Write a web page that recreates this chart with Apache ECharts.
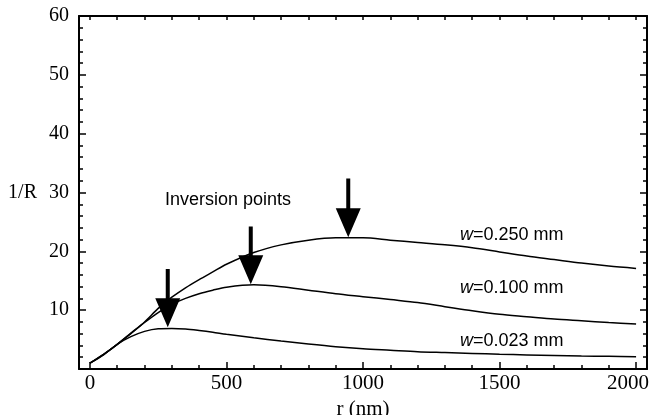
<!DOCTYPE html>
<html>
<head>
<meta charset="utf-8">
<script src="https://cdn.jsdelivr.net/npm/echarts@6/dist/echarts.min.js"></script>
<style>
html,body{margin:0;padding:0;background:#fff;}
#chart{width:650px;height:415px;}
</style>
</head>
<body>
<div id="chart"></div>
<script>
// r (nm) sample points, shared by the three curves
var rVals = [0,50,100,150,200,250,300,350,400,450,500,600,700,800,900,1000,1100,1200,1300,1400,1500,1600,1700,1800,1900,2000];
var w250 = [1.0,2.5,4.2,6.1,8.0,10.3,12.2,13.8,15.2,16.5,17.8,19.8,21.1,21.9,22.3,22.3,21.9,21.5,21.1,20.6,19.9,19.2,18.6,18.0,17.5,17.1];
var w100 = [1.0,2.5,4.2,6.0,7.9,9.6,11.0,12.0,12.8,13.4,13.9,14.3,14.0,13.4,12.8,12.3,11.8,11.3,10.6,9.9,9.3,8.9,8.5,8.2,7.9,7.65];
var w023 = [1.0,2.4,4.2,5.5,6.4,6.85,6.9,6.8,6.55,6.25,5.9,5.3,4.75,4.25,3.8,3.45,3.2,2.95,2.8,2.65,2.5,2.4,2.3,2.2,2.15,2.1];

var xMajor = [0,500,1000,1500,2000];
var xMinor = [0,100,200,300,400,500,600,700,800,900,1000,1100,1200,1300,1400,1500,1600,1700,1800,1900,2000];

// inversion point arrows: [r, tip 1/R, tail 1/R]
var arrows = [[285,7.1,17.0],[589,14.4,24.2],[946,22.4,32.4]];
// curve labels: [r, 1/R, text]
var curveNames = [[1355,22.8,'0.250'],[1355,13.8,'0.100'],[1355,4.76,'0.023']];
var noteText = [[275,28.7,'Inversion points']];

function pairs(ys) {
    var out = [];
    for (var i = 0; i < rVals.length; i++) out.push([rVals[i], ys[i]]);
    return out;
}

function curve(ys) {
    return {
        type: 'line',
        data: pairs(ys),
        smooth: 0.3,
        showSymbol: false,
        silent: true,
        lineStyle: {color: '#000', width: 1.5}
    };
}

var serif = '"Liberation Serif", "DejaVu Serif", serif';
var sans = '"Liberation Sans", Arial, sans-serif';
var tickStyle = {color: '#000', width: 1.5};

var chart = echarts.init(document.getElementById('chart'));
var option = {
    animation: false,
    backgroundColor: '#fff',
    grid: {left: 79, right: 3, top: 16, bottom: 46, containLabel: false, outerBoundsMode: 'none'},
    xAxis: [
        {
            type: 'value', min: -40, max: 2040, position: 'bottom',
            name: 'r (nm)', nameLocation: 'middle', nameGap: 27,
            nameTextStyle: {fontFamily: serif, fontSize: 21, color: '#000'},
            axisLine: {onZero: false, lineStyle: {color: '#000', width: 2}},
            axisTick: {inside: true, length: 7, customValues: xMajor, lineStyle: tickStyle},
            axisLabel: {
                customValues: xMajor, margin: 4, fontFamily: serif, fontSize: 21, color: '#000',
                formatter: function (v) { return v === 2000 ? '{e|' + v + '}' : String(v); },
                rich: {e: {fontFamily: serif, fontSize: 21, color: '#000', padding: [0, 16, 0, 0]}}
            },
            splitLine: {show: false}
        },
        {
            type: 'value', min: -40, max: 2040, position: 'bottom',
            axisLine: {show: false, onZero: false},
            axisTick: {inside: true, length: 4, customValues: xMinor, lineStyle: tickStyle},
            axisLabel: {show: false},
            splitLine: {show: false}
        },
        {
            type: 'value', min: -40, max: 2040, position: 'top',
            axisLine: {onZero: false, lineStyle: {color: '#000', width: 2}},
            axisTick: {inside: true, length: 4, customValues: xMinor, lineStyle: tickStyle},
            axisLabel: {show: false},
            splitLine: {show: false}
        }
    ],
    yAxis: [
        {
            type: 'value', min: 0, max: 60, interval: 10, position: 'left',
            name: '1/R', nameLocation: 'middle', nameRotate: 0, nameGap: 42,
            nameTextStyle: {fontFamily: serif, fontSize: 20, color: '#000'},
            axisLine: {onZero: false, lineStyle: {color: '#000', width: 2}},
            axisTick: {inside: true, length: 7, lineStyle: tickStyle},
            minorTick: {show: true, splitNumber: 5, length: 4, lineStyle: tickStyle},
            axisLabel: {
                margin: 10, fontFamily: serif, fontSize: 20, color: '#000',
                formatter: function (v) { return v === 0 ? '' : v; }
            },
            splitLine: {show: false}
        },
        {
            type: 'value', min: 0, max: 60, interval: 10, position: 'right',
            axisLine: {onZero: false, lineStyle: {color: '#000', width: 2}},
            axisTick: {inside: true, length: 7, lineStyle: tickStyle},
            minorTick: {show: true, splitNumber: 5, length: 4, lineStyle: tickStyle},
            axisLabel: {show: false},
            splitLine: {show: false}
        }
    ],
    series: [
        curve(w250),
        curve(w100),
        curve(w023),
        {
            type: 'custom',
            silent: true,
            data: arrows,
            renderItem: function (params, api) {
                var tip = api.coord([api.value(0), api.value(1)]);
                var tail = api.coord([api.value(0), api.value(2)]);
                var headH = 29, headW = 12.5, shaftW = 2;
                var x = tip[0];
                return {
                    type: 'polygon',
                    shape: {points: [
                        [x - shaftW, tail[1]], [x + shaftW, tail[1]],
                        [x + shaftW, tip[1] - headH], [x + headW, tip[1] - headH],
                        [x, tip[1]],
                        [x - headW, tip[1] - headH], [x - shaftW, tip[1] - headH]
                    ]},
                    style: {fill: '#000'}
                };
            }
        },
        {
            type: 'custom',
            silent: true,
            data: curveNames,
            renderItem: function (params, api) {
                var p = api.coord([api.value(0), api.value(1)]);
                return {
                    type: 'text',
                    x: p[0], y: p[1],
                    style: {
                        text: '{i|w}=' + curveNames[params.dataIndex][2] + ' mm',
                        fill: '#000',
                        font: '18px ' + sans,
                        verticalAlign: 'middle',
                        rich: {i: {fontStyle: 'italic', fontFamily: sans, fontSize: 18}}
                    }
                };
            }
        },
        {
            type: 'custom',
            silent: true,
            data: noteText,
            renderItem: function (params, api) {
                var p = api.coord([api.value(0), api.value(1)]);
                return {
                    type: 'text',
                    x: p[0], y: p[1],
                    style: {
                        text: noteText[params.dataIndex][2],
                        fill: '#000',
                        font: '18px ' + sans,
                        verticalAlign: 'middle'
                    }
                };
            }
        }
    ]
};
chart.setOption(option);
</script>
</body>
</html>
